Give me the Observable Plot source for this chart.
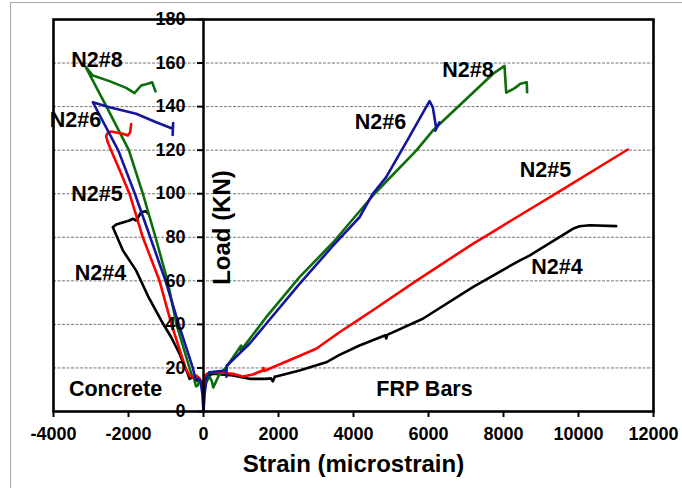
<!DOCTYPE html>
<html><head><meta charset="utf-8">
<script src="https://cdn.jsdelivr.net/npm/d3@7"></script>
<script src="https://cdn.jsdelivr.net/npm/@observablehq/plot@0.6"></script>
<style>
body{margin:0;background:#fff;}
#wrap{position:relative;width:682px;height:488px;overflow:hidden;background:#fff;}
#border{position:absolute;left:10px;top:2px;width:700px;height:520px;border:1.5px solid #a8a8a8;pointer-events:none;}
</style>
</head><body><div id="wrap"><div id="chart"></div><div id="border"></div></div>
<script>
// Specimens and colours
const specimens = ["N2#4", "N2#5", "N2#6", "N2#8"];
const specimenColors = ["#000000", "#ff0000", "#15159e", "#0b6e0b"];

// [strain (microstrain), load (KN)] — concrete side (negative strain)
const n24Concrete = [[0,12],[-60,14],[-187,14.2],[-285,15.7],[-373,15],[-419,17.3],[-640,26.5],[-861,34.1],[-1128,41.8],[-1480,53],[-1795,64.7],[-2151,74],[-2418,84.6],[-2329,85.9],[-1973,87.7],[-1885,88.5],[-1796,87.7],[-1662,91.5],[-1550,92],[-1484,91]];
const n25Concrete = [[0,10],[-100,15],[-195,16.5],[-285,15.7],[-373,16.5],[-480,20],[-853,40],[-1173,60],[-1618,80],[-1973,100],[-2240,111],[-2462,119.8],[-2560,124],[-2596,126.5],[-2552,128],[-2462,128.6],[-2151,127.5],[-2018,126.7],[-1956,128.2],[-1929,132]];
const n26Concrete = [[0,0],[-30,8],[-80,14],[-150,15],[-213,15],[-285,20],[-659,40],[-1013,60],[-1420,80],[-1830,100],[-2270,119.8],[-2951,142],[-2507,139.7],[-1796,136.7],[-1262,132.8],[-818,129.8],[-810,132.5],[-822,127]];
const n28Concrete = [[0,8],[-40,12],[-100,15],[-150,12],[-200,11.5],[-250,15],[-300,16],[-373,20],[-720,40],[-960,60],[-1280,80],[-1618,100],[-1991,120],[-2587,140],[-3147,158.4],[-2951,154.3],[-2507,151.7],[-2062,148.6],[-1840,146.2],[-1662,149.7],[-1484,150.5],[-1369,151.2],[-1280,147]];

// FRP bars side (positive strain)
const n24Frp = [[0,12],[60,16],[248,17.3],[781,16.5],[1227,15],[1672,15],[1800,15.2],[1848,13.8],[1900,16],[1938,16.1],[2560,18.8],[3272,22.6],[3627,26],[4160,30.3],[4850,35],[4872,33.5],[4900,35.2],[5848,42.6],[7182,57.1],[7627,61.5],[8427,69.3],[8693,71.6],[9849,83.9],[10027,85.1],[10300,85.5],[11005,85.1]];
const n25Frp = [[0,10],[27,16.5],[160,18],[500,17.8],[781,17.3],[1048,16.1],[1315,17],[1582,18.8],[1600,20],[1620,18.6],[1848,20.3],[2381,24.2],[3005,28.8],[3627,36.4],[4160,42.4],[4515,46.5],[5672,60],[7182,77],[7627,81.6],[8427,90],[9405,100.2],[11315,120.3]];
const n26Frp = [[0,0],[30,8],[80,15],[160,18],[400,18.5],[600,18.8],[610,16],[620,21],[800,24],[1227,31.1],[1672,40.3],[2560,58.6],[3448,76],[4160,89.2],[4515,100],[4872,107.6],[5450,125],[6027,142.5],[6115,139.7],[6205,130.2],[6293,132.8],[6180,129]];
const n28Frp = [[0,8],[60,13],[160,16],[220,14],[260,11],[300,12.5],[340,14],[420,17],[605,20.3],[1005,30.3],[990,28],[1040,29],[1672,43.3],[2560,61.7],[3448,77.5],[4560,100],[5672,119.8],[6115,129],[7715,155],[8027,158.7],[8072,146.4],[8300,148.5],[8450,150.5],[8620,151.2],[8630,146.6]];

// Axis ticks
const xTicks = [-4000, -2000, 0, 2000, 4000, 6000, 8000, 10000, 12000];
const yTicks = [0, 20, 40, 60, 80, 100, 120, 140, 160, 180];
const gridLoads = [20, 40, 60, 80, 100, 120, 140, 160];

// Annotations
const annoText = ["N2#8", "N2#6", "N2#5", "N2#4", "Concrete", "FRP Bars", "N2#8", "N2#6", "N2#5", "N2#4"];
const annoStrain = [-2840, -3413, -2840, -2747, -2347, 5893, 7053, 4720, 9120, 9427];
const annoLoad = [161.2, 134, 99.6, 63.4, 10.1, 10.1, 156.6, 133.1, 110.7, 66.3];

// Build table
const curves = [
  ["N2#4", "concrete", n24Concrete], ["N2#4", "frp", n24Frp],
  ["N2#8", "concrete", n28Concrete], ["N2#8", "frp", n28Frp],
  ["N2#5", "concrete", n25Concrete], ["N2#5", "frp", n25Frp],
  ["N2#6", "concrete", n26Concrete], ["N2#6", "frp", n26Frp]
];
const rows = [];
for (const [sp, side, pts] of curves) {
  for (const [s, l] of pts) rows.push({specimen: sp, curve: sp + side, strain: s, load: l});
}
const annos = annoText.map((t, i) => ({t, x: annoStrain[i], y: annoLoad[i]}));

const chart = Plot.plot({
  width: 682, height: 488,
  marginLeft: 53, marginRight: 29, marginTop: 19, marginBottom: 77,
  style: {fontFamily: "'Liberation Sans', Arial, sans-serif", fontWeight: "bold", background: "white", color: "black", overflow: "visible"},
  x: {domain: [-4000, 12000]},
  y: {domain: [0, 180], axis: null},
  color: {domain: specimens, range: specimenColors},
  marks: [
    Plot.ruleY(gridLoads, {y: d => d, stroke: "#777", strokeDasharray: "3,1.5", strokeWidth: 1}),
    Plot.line(rows, {x: "strain", y: "load", z: "curve", stroke: "specimen", strokeWidth: 2.6, strokeLinejoin: "round", strokeLinecap: "round", curve: "linear"}),
    Plot.ruleX([0], {x: d => d, strokeWidth: 2.5, stroke: "black"}),
    Plot.ruleY(yTicks, {y: d => d, x1: d => -160, x2: d => 0, strokeWidth: 2, stroke: "black"}),
    Plot.text(yTicks, {x: d => 0, y: d => d, text: d => String(d), dx: -18, textAnchor: "end", fontSize: 18, fontWeight: "bold"}),
    Plot.axisX({ticks: xTicks, tickSize: 6, tickPadding: 10, tickFormat: d => String(d), fontSize: 18, fontWeight: "bold", strokeWidth: 2, label: null}),
    Plot.frame({stroke: "black", strokeWidth: 2.6}),
    Plot.text(annos, {x: "x", y: "y", text: "t", fontSize: 21.5, fontWeight: "bold", textAnchor: "middle"}),
    Plot.text(["Strain (microstrain)"], {text: d => d, frameAnchor: "bottom", textAnchor: "middle", lineAnchor: "middle", dy: 53, fontSize: 24, fontWeight: "bold"}),
    Plot.text(["Load (KN)"], {text: d => d, frameAnchor: "left", textAnchor: "middle", lineAnchor: "middle", dx: 169, dy: 12, rotate: -90, fontSize: 24, fontWeight: "bold"})
  ]
});
document.getElementById("chart").appendChild(chart);
</script></body></html>
